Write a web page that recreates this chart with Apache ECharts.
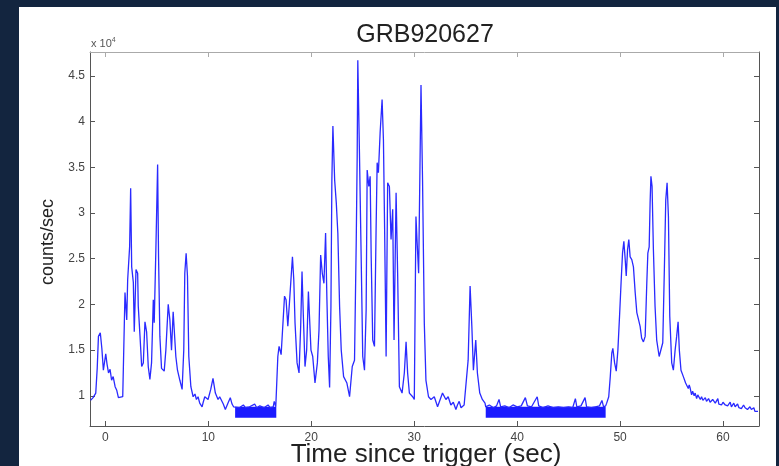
<!DOCTYPE html>
<html>
<head>
<meta charset="utf-8">
<script src="https://cdn.jsdelivr.net/npm/echarts@6/dist/echarts.min.js"></script>
<style>html,body{margin:0;padding:0;background:#13253f;}#c{width:779px;height:466px;}</style>
</head>
<body>
<div id="c"></div>
<script>
// Time since trigger (sec)
const time = [
-1.45,-1.2,-0.94,-0.8,-0.68,-0.5,-0.35,-0.2,0.03,0.15,0.3,0.45,0.6,0.75,0.94,1.1,1.26,1.45,1.68,
1.9,2.07,2.16,2.35,2.45,2.55,2.71,2.8,2.97,3.13,3.19,3.36,3.52,3.68,3.84,4.0,4.16,4.32,4.48,4.65,4.74,4.9,
5.07,5.16,5.29,5.45,5.71,5.87,6.1,6.26,6.42,6.58,6.74,6.84,7.0,7.23,7.45,7.61,7.71,7.84,7.97,8.1,8.3,8.52,
8.7,8.84,9.0,9.16,9.39,9.5,9.65,9.8,9.97,10.23,10.45,10.68,10.94,11.1,11.26,11.45,11.65,11.9,12.13,12.3,12.45,
12.6,13.0,13.4,13.6,14.0,14.5,14.7,15.0,15.4,15.8,16.0,16.3,16.4,16.55,
16.65,16.75,16.87,17.07,17.23,17.4,17.55,17.72,17.88,18.04,18.17,18.3,18.42,18.62,18.81,18.97,19.1,19.23,19.39,
19.55,19.72,19.85,19.97,20.14,20.36,20.59,20.75,20.91,21.07,21.23,21.39,21.52,21.65,21.78,21.91,22.0,22.1,22.27,
22.43,22.58,22.75,22.91,23.14,23.46,23.72,23.98,24.2,24.37,24.46,24.52,24.68,24.85,25.0,25.17,25.33,25.43,25.59,
25.72,25.82,25.97,26.14,26.3,26.4,26.52,26.69,26.88,27.01,27.13,27.27,27.42,27.59,27.75,27.91,28.04,28.24,28.39,
28.56,28.82,29.04,29.21,29.36,29.53,29.85,30.01,30.17,30.27,30.43,30.66,30.81,30.98,31.14,31.39,31.63,31.95,32.27,
32.75,33.08,33.3,33.56,33.8,34.05,34.2,34.37,34.55,34.69,34.85,35.01,35.24,35.43,35.6,35.75,35.98,36.14,36.37,36.62,36.88,
36.95,37.3,37.7,38.0,38.24,38.4,38.8,39.2,39.6,40.0,40.4,40.8,41.0,41.4,41.95,42.1,42.5,43.0,43.5,44.0,44.5,45.0,45.4,
45.66,45.8,46.2,46.6,46.75,47.2,47.6,48.0,48.24,48.4,48.6,
48.7,48.9,49.05,49.2,49.3,49.47,49.63,49.79,49.95,50.1,50.24,50.37,50.5,50.6,50.73,50.85,50.98,51.14,51.3,51.47,
51.63,51.8,51.95,52.1,52.27,52.44,52.6,52.7,52.83,52.92,53.0,53.11,53.24,53.4,53.56,53.8,53.99,54.15,54.31,54.44,
54.57,54.7,54.83,55.02,55.18,55.35,55.5,55.64,55.76,55.92,56.15,56.37,
56.63,56.72,56.8,56.95,57.05,57.2,57.3,57.44,57.55,57.7,57.8,57.92,58.05,58.15,58.28,58.4,58.5,58.6,58.75,58.89,
59.0,59.1,59.25,59.37,59.5,59.6,59.75,59.86,60.0,60.1,60.22,60.34,60.45,60.6,60.7,60.82,60.95,61.05,61.18,61.31,
61.42,61.55,61.68,61.79,61.9,62.0,62.15,62.27,62.38,62.5,62.62,62.76,62.88,63.0,63.1,63.15,63.25,63.4
];
// counts/sec
const counts = [
9500,9800,10300,13000,16500,16900,15200,12800,14600,13500,12500,12900,11700,12100,11000,10600,9800,9900,9900,
21300,18300,22700,26300,32700,24100,22400,17000,23800,23400,19800,16500,13200,13600,18100,17000,13200,11800,13600,20500,18000,26000,
35300,25200,16500,13000,12700,15000,20000,18300,15000,19200,19100,14300,12800,11700,10700,15000,23400,25600,23100,14300,11000,9900,
10200,9600,9900,9200,8800,9300,9900,9700,9600,10700,11900,10300,9600,9900,9800,9100,8500,9200,9800,9100,8800,
8800,8700,9000,8700,8800,9100,8700,8900,8700,9000,8700,8800,9400,8800,
8800,14300,15400,14500,17600,20900,20500,17600,20200,20300,25200,22700,18000,13600,12500,17600,23600,18700,13200,
15000,21400,21200,15000,14300,11400,13600,17200,25400,23400,22300,27800,20500,14300,10900,19800,33600,39500,33600,
31100,27800,19800,15000,12100,11400,9900,13200,13900,27100,36200,46700,36600,24900,14300,12800,19400,34700,32900,
34000,25200,16100,15400,28500,35500,34400,38800,42400,38000,27800,14300,33300,32900,27100,30400,16100,32200,23400,
11000,10300,12500,15900,12500,10300,9900,9600,29600,27100,23400,44000,33600,18000,11700,9900,9600,9900,8800,
10300,9600,9900,9000,9300,8500,9000,9400,8700,8500,9000,9200,13900,22000,17600,12800,16100,12500,10300,9600,9200,
8800,9000,8700,8900,9600,8800,8900,8700,9000,8800,8900,9800,8900,8800,9900,8900,8700,8900,8700,8800,8700,8800,8700,
9700,8800,8900,9800,8800,8700,8800,8900,9500,8800,8900,
9200,9900,12100,14700,15200,13600,12700,15000,18700,22400,25600,26900,24900,23100,26000,27100,25200,24900,24100,21300,
19100,18300,17600,16300,15900,16500,22400,25600,26300,31100,34000,32900,26000,19800,16100,14300,14100,15800,24100,31400,
33300,29600,18700,13600,12800,15000,16500,18100,15000,12800,12100,11400,
10800,11200,10900,10100,10500,10000,10300,9700,10100,9900,9600,9900,9500,9400,9800,9400,9600,9700,9300,9200,
9600,9500,9200,9400,9700,9100,9300,9000,9300,9400,9000,9200,8900,8900,9300,8800,9000,9200,8800,9000,
9100,8700,8900,8600,8800,9000,8700,8800,8500,8600,8800,8500,8400,8700,8300,8100,8400,8300
];
// Dense noise bands (start, end, low, high)
const bandStart = [12.6, 36.95];
const bandEnd = [16.6, 48.6];
const bandLow = [7600, 7600];
const bandHigh = [8800, 8800];

const xTicks = [0, 10, 20, 30, 40, 50, 60];
const yTicks = [10000, 15000, 20000, 25000, 30000, 35000, 40000, 45000];
const xMin = -1.5, xMax = 63.5, yMin = 6700, yMax = 47600;

const chart = echarts.init(document.getElementById('c'));
const lineData = time.map((t, i) => [t, counts[i]]);
const bandData = bandStart.map((s, i) => [s, bandEnd[i], bandLow[i], bandHigh[i]]);
const axisCol = '#555';
const mkX = (pos, lab, col) => ({
  type: 'value', min: xMin, max: xMax, position: pos,
  axisLine: {show: true, onZero: false, lineStyle: {color: col, width: 1}},
  axisTick: {show: true, inside: true, length: 5, customValues: xTicks, lineStyle: {color: col}},
  axisLabel: {show: lab, customValues: xTicks, color: '#444', fontSize: 12, margin: 6, fontFamily: 'Liberation Sans'},
  splitLine: {show: false}
});
const mkY = (pos, lab, col) => ({
  type: 'value', min: yMin, max: yMax, position: pos,
  axisLine: {show: true, onZero: false, lineStyle: {color: col, width: 1}},
  axisTick: {show: true, inside: true, length: 5, customValues: yTicks, lineStyle: {color: col}},
  axisLabel: {show: lab, customValues: yTicks, color: '#444', fontSize: 12, margin: 5, fontFamily: 'Liberation Sans',
    formatter: v => String(v / 10000)},
  splitLine: {show: false}
});
chart.setOption({
  backgroundColor: '#13253f',
  animation: false,
  grid: {left: 90, right: 20, top: 52, bottom: 40, containLabel: false},
  xAxis: [mkX('bottom', true, axisCol), mkX('top', false, '#aaa')],
  yAxis: [mkY('left', true, axisCol), mkY('right', false, axisCol)],
  graphic: [
    {type: 'rect', z: -100, shape: {x: 19, y: 7, width: 757, height: 459}, style: {fill: '#ffffff'}},
    {type: 'text', x: 425, y: 35, style: {text: 'GRB920627', font: '25px "Liberation Sans"', fill: '#222', align: 'center', verticalAlign: 'middle'}},
    {type: 'text', x: 426, y: 455, style: {text: 'Time since trigger (sec)', font: '26px "Liberation Sans"', fill: '#222', align: 'center', verticalAlign: 'middle'}},
    {type: 'text', x: 48, y: 242, rotation: Math.PI / 2, style: {text: 'counts/sec', font: '18px "Liberation Sans"', fill: '#222', align: 'center', verticalAlign: 'middle'}},
    {type: 'text', x: 91, y: 44, style: {text: '{a|x 10}{b|4}', fill: '#555', verticalAlign: 'middle',
      rich: {a: {fontSize: 11, fontFamily: 'Liberation Sans', fill: '#555'}, b: {fontSize: 7, fontFamily: 'Liberation Sans', verticalAlign: 'top', padding: [0, 0, 8, 0]}}}}
  ],
  series: [
    {
      type: 'custom', xAxisIndex: 0, yAxisIndex: 0, data: bandData,
      encode: {x: [0, 1], y: [2, 3]},
      renderItem: (params, api) => {
        const p0 = api.coord([api.value(0), api.value(3)]);
        const p1 = api.coord([api.value(1), api.value(2)]);
        return {type: 'rect', shape: {x: p0[0], y: p0[1], width: p1[0] - p0[0], height: p1[1] - p0[1]}, style: {fill: '#1a1aff'}};
      },
      z: 3
    },
    {
      type: 'line', xAxisIndex: 0, yAxisIndex: 0, data: lineData, showSymbol: false,
      lineStyle: {color: '#2a2aff', width: 1.3}, z: 4
    }
  ]
});
</script>
</body>
</html>
